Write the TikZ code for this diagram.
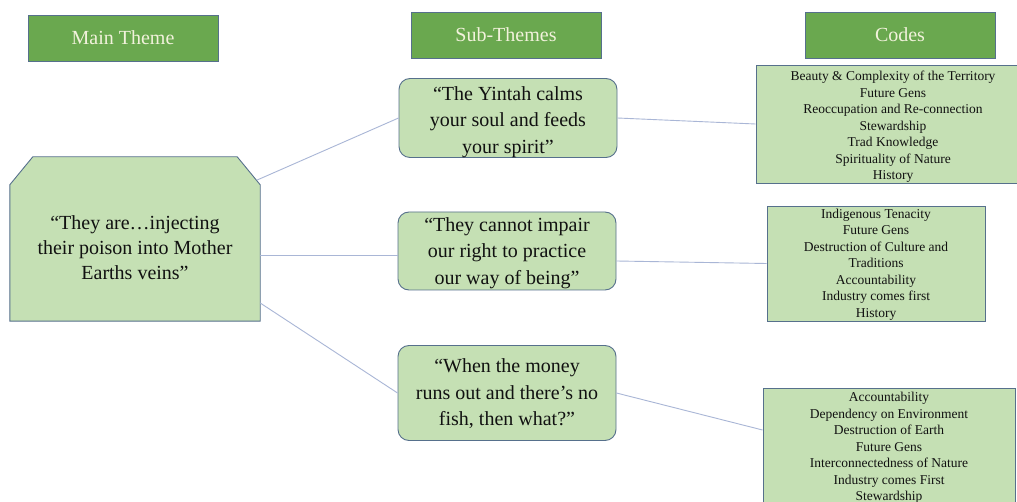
\documentclass[tikz,border=0pt]{standalone}
\usepackage{fontspec}
\setmainfont{Liberation Serif}
\usetikzlibrary{calc}
\definecolor{hdrfill}{HTML}{6AA84F}
\definecolor{hdrtext}{HTML}{F2F2DC}
\definecolor{boxfill}{HTML}{C5E0B4}
\definecolor{boxline}{HTML}{56708C}
\definecolor{linkcol}{HTML}{A9B6D6}
\definecolor{txt}{HTML}{111111}
\begin{document}
\begin{tikzpicture}[x=1pt,y=-1pt,
  header/.style={draw=boxline,line width=0.9pt,fill=hdrfill,text=hdrtext,
    minimum width=190pt,minimum height=46pt,inner sep=0pt,
    font=\fontsize{20}{23}\selectfont},
  subbox/.style={draw=boxline,line width=0.9pt,fill=boxfill,
    rounded corners=11pt,minimum width=218pt,inner sep=0pt},
  subtext/.style={text=txt,inner sep=0pt,align=center,
    font=\fontsize{20}{26.5}\selectfont},
  codebox/.style={draw=boxline,line width=0.9pt,fill=boxfill,inner sep=0pt},
  codetext/.style={text=txt,inner sep=0pt,align=center,font=\fontsize{13.5}{16.5}\selectfont},
  mainbox/.style={draw=boxline,line width=0.9pt,fill=boxfill},
  link/.style={draw=linkcol,line width=0.9pt}]
\useasboundingbox (0,0) rectangle (1017,502);
\clip (0,0) rectangle (1017,502);
\fill[white] (0,0) rectangle (1017,502);

% headers
\node[header] (hmain) at (123,38) {Main Theme};
\node[header] (hsub) at (506,35) {Sub-Themes};
\node[header] (hcode) at (900,35) {Codes};

% main theme (snipped top corners)
\node[minimum width=250pt,minimum height=164pt,inner sep=0pt] (main) at (135,239) {};
\draw[mainbox] ($(main.north west)+(0,28)$) -- ($(main.north west)+(23,0)$)
  -- ($(main.north east)+(-23,0)$) -- ($(main.north east)+(0,28)$)
  -- (main.south east) -- (main.south west) -- cycle;
\node[subtext,font=\fontsize{20}{25}\selectfont] (maintext) at (135,248) {``They are\ldots injecting\\their poison into Mother\\Earths veins''};

% sub-themes
\node[subbox,minimum height=79pt] (s1) at (508,118) {};
\node[subtext] (s1t) at (508,122) {``The Yintah calms\\your soul and feeds\\your spirit''};
\node[subbox,minimum height=78pt] (s2) at (507,251) {};
\node[subtext] (s2t) at (507,253) {``They cannot impair\\our right to practice\\our way of being''};
\node[subbox,minimum height=95pt] (s3) at (507,393) {};
\node[subtext] (s3t) at (507,394) {``When the money\\runs out and there’s no\\fish, then what?''};

% codes
\node[codebox,minimum width=274pt,minimum height=118pt] (c1) at (893,124) {};
\node[codetext] (c1t) at (893,127) {Beauty \& Complexity of the Territory\\Future Gens\\Reoccupation and Re-connection\\Stewardship\\Trad Knowledge\\Spirituality of Nature\\History};
\node[codebox,minimum width=218pt,minimum height=115pt] (c2) at (876,263.5) {};
\node[codetext] (c2t) at (876,264.5) {Indigenous Tenacity\\Future Gens\\Destruction of Culture and\\Traditions\\Accountability\\Industry comes first\\History};
\node[codebox,minimum width=252pt,minimum height=118pt] (c3) at (889,447) {};
\node[codetext] (c3t) at (889,448) {Accountability\\Dependency on Environment\\Destruction of Earth\\Future Gens\\Interconnectedness of Nature\\Industry comes First\\Stewardship};

% connectors
\draw[link] ([shift={(-3,-59)}]main.east) -- (s1.west);
\draw[link] ([shift={(0,16)}]main.east) -- ([shift={(0,4)}]s2.west);
\draw[link] ([shift={(0,64)}]main.east) -- (s3.west);
\draw[link] (s1.east) -- (c1.west);
\draw[link] ([shift={(0,10)}]s2.east) -- (c2.west);
\draw[link] (s3.east) -- ([shift={(0,-17)}]c3.west);
\end{tikzpicture}
\end{document}
